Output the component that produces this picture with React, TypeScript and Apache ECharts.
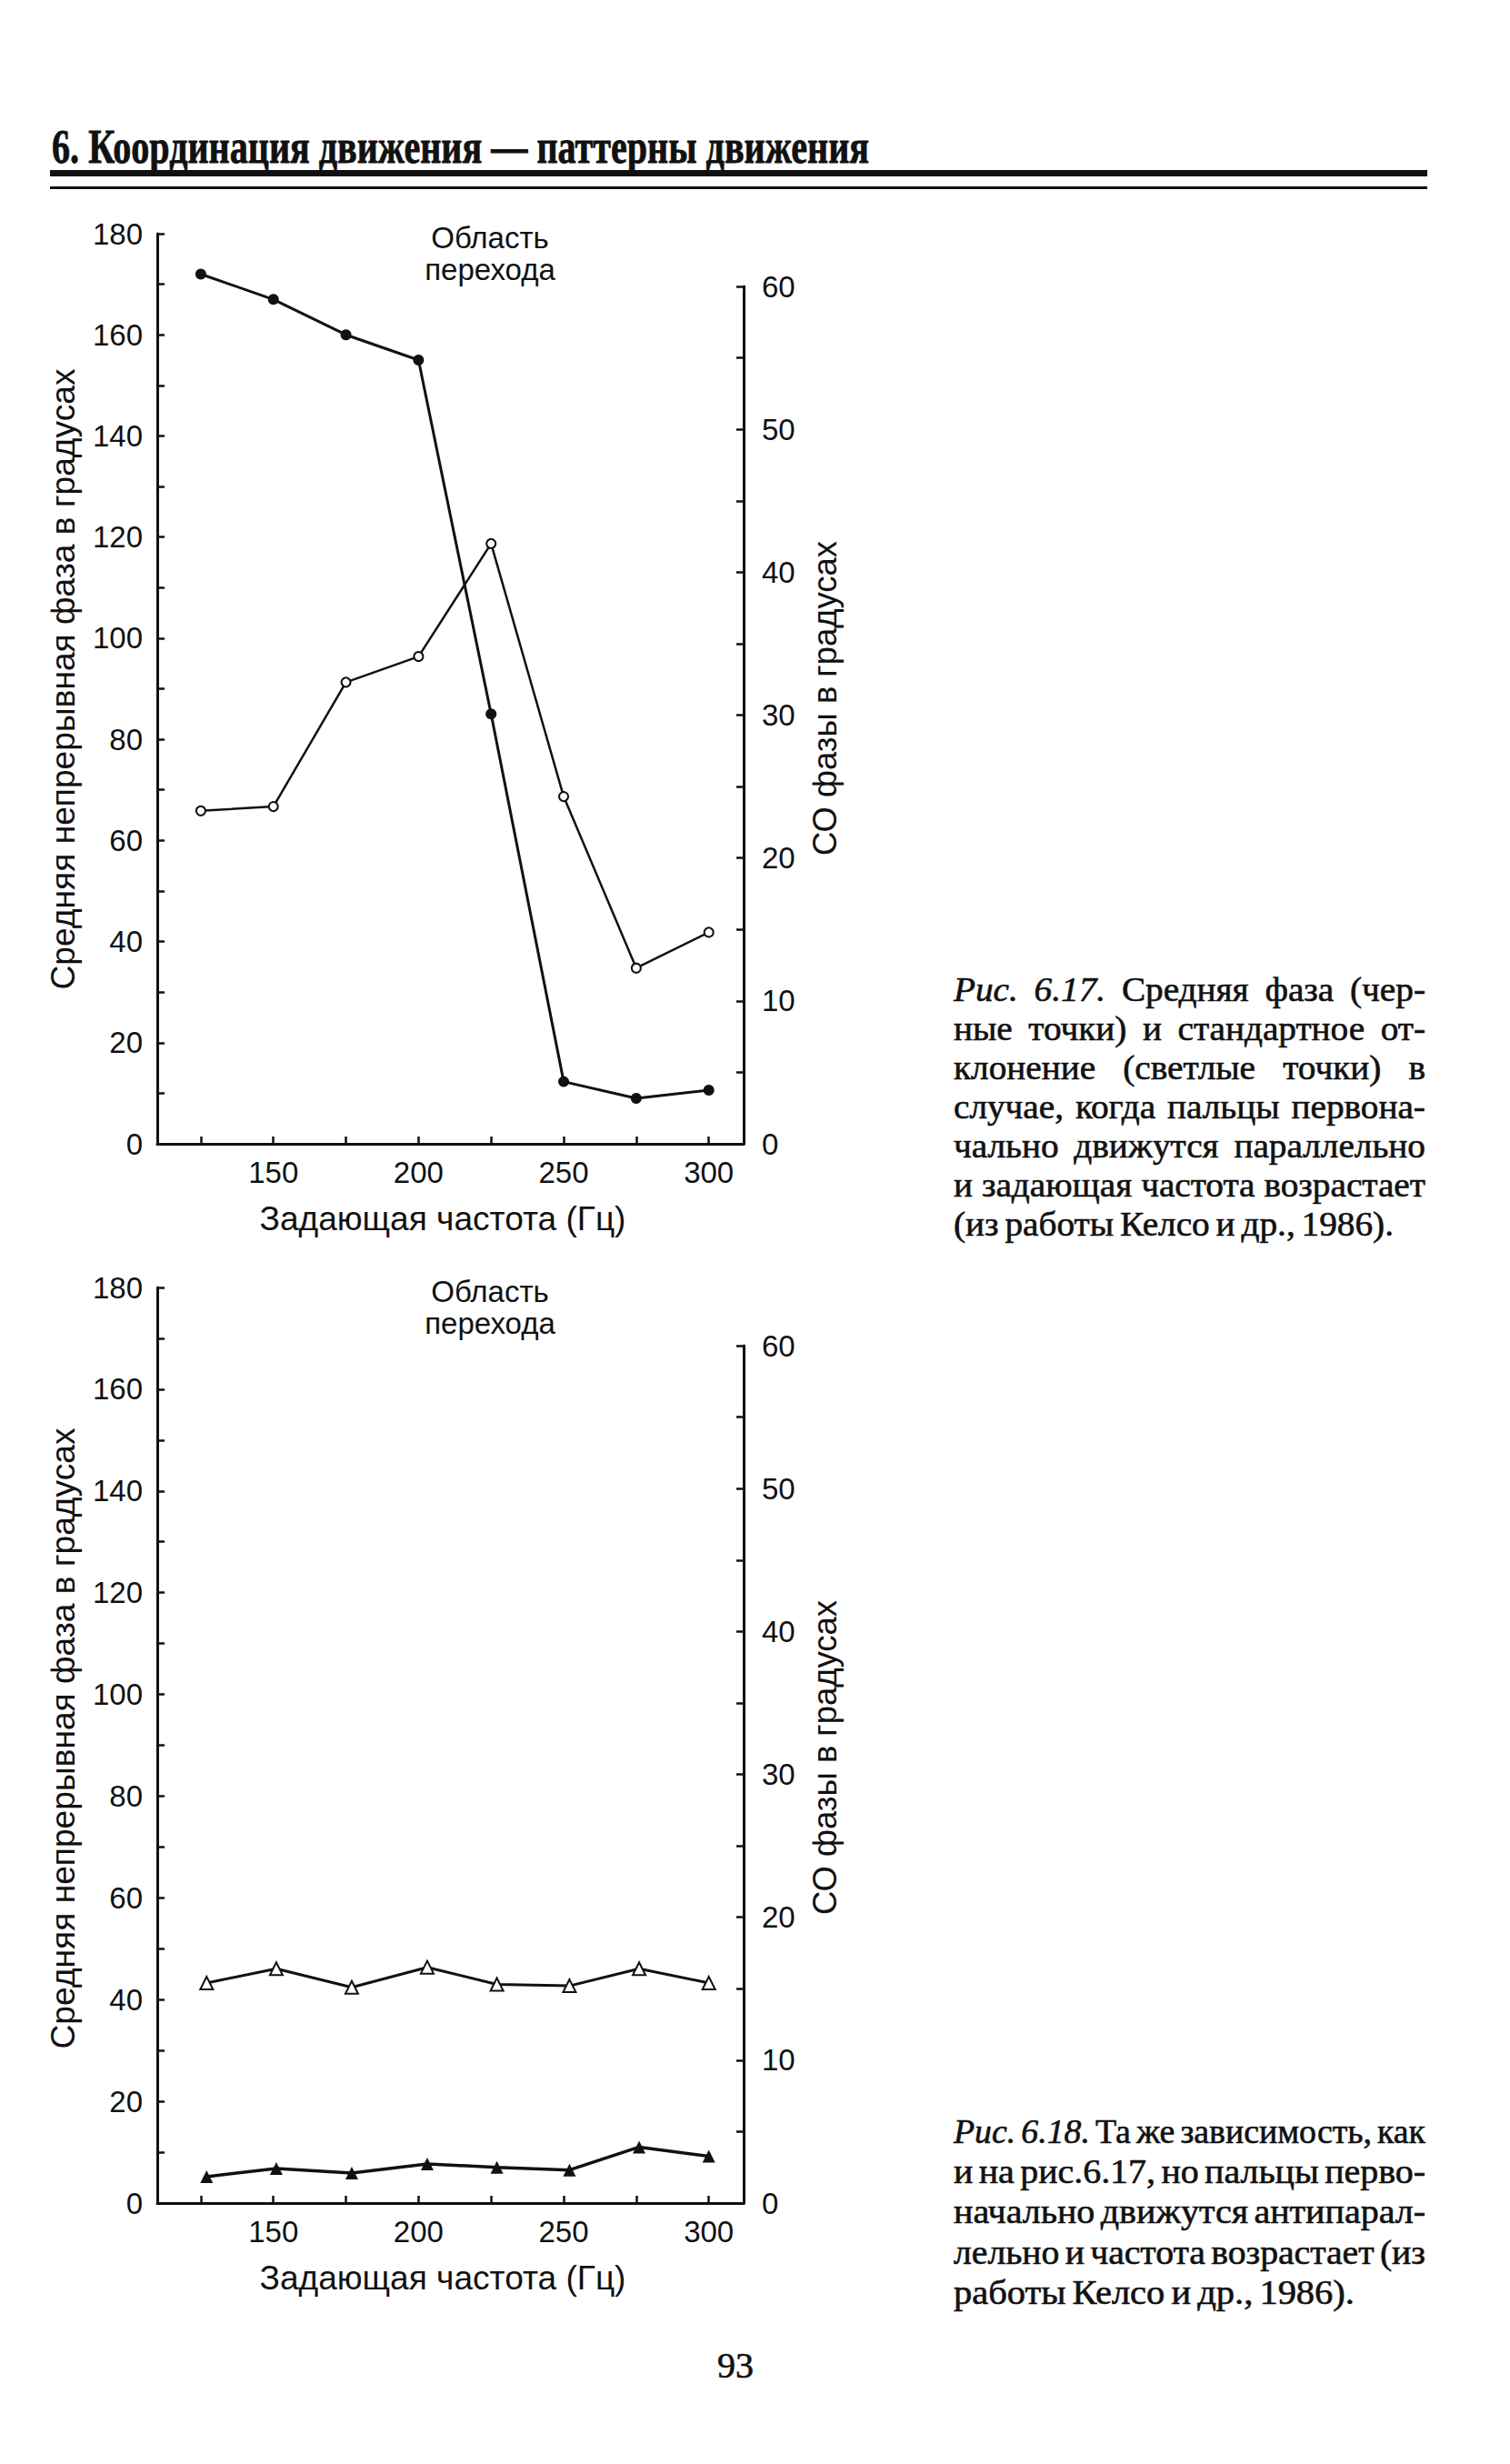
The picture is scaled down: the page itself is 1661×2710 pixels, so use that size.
import React, { useEffect, useRef } from "react";
import * as echarts from "echarts";

// ---------- data ----------
const freqTicks = [125, 150, 175, 200, 225, 250, 275, 300];
const freqLabels = [150, 200, 250, 300];

const freq617 = [125, 150, 175, 200, 225, 250, 275, 300];
const meanPhase617 = [172, 167, 160, 155, 85, 12.3, 9, 10.6];
const sdPhase617 = [23.3, 23.6, 32.3, 34.1, 42.0, 24.3, 12.3, 14.8];

const freq618 = [127, 151, 177, 203, 227, 252, 276, 300];
const meanPhase618 = [5.2, 6.8, 5.9, 7.7, 7.0, 6.5, 11.0, 9.2];
const sdPhase618 = [15.4, 16.4, 15.1, 16.5, 15.3, 15.2, 16.4, 15.4];

// ---------- texts ----------
const headerText = "6. Координация движения — паттерны движения";
const regionLabel = ["Область", "перехода"];
const xTitle = "Задающая частота (Гц)";
const yLeftTitle = "Средняя непрерывная фаза в градусах";
const yRightTitle = "СО фазы в градусах";
const caption617 = [
  "Рис. 6.17. Средняя фаза (чер-",
  "ные точки) и стандартное от-",
  "клонение (светлые точки) в",
  "случае, когда пальцы первона-",
  "чально движутся параллельно",
  "и задающая частота возрастает",
  "(из работы Келсо и др., 1986).",
];
const caption618 = [
  "Рис. 6.18. Та же зависимость, как",
  "и на рис.6.17, но пальцы перво-",
  "начально движутся антипарал-",
  "лельно и частота возрастает (из",
  "работы Келсо и др., 1986).",
];
const pageNumber = "93";

const INK = "#111";
const SANS = "Liberation Sans";
const SERIF = "Liberation Serif";

const PLOT_LEFT = 173;
const PLOT_WIDTH = 645;
const panels = [
  { top: 257, bottom: 1258, rightTop: 315 },
  { top: 1416, bottom: 2423, rightTop: 1480 },
];

function makeMeasurer() {
  const ctx = document.createElement("canvas").getContext("2d")!;
  return (text: string, font: string) => {
    ctx.font = font;
    return ctx.measureText(text).width;
  };
}

function buildCaption(
  measure: (t: string, f: string) => number,
  lines: string[],
  italicCount: number,
  x0: number,
  x1: number,
  y0: number,
  dy: number,
  size: number,
  lastWidth: number
) {
  const fontOf = (it: boolean) => `${it ? "italic " : ""}${size}px ${SERIF}`;
  const space = measure(" ", fontOf(false));
  const lastWords = lines[lines.length - 1].split(" ");
  const lastNat =
    lastWords.reduce((s, w) => s + measure(w, fontOf(false)), 0) +
    space * 0.7 * (lastWords.length - 1);
  let sx = lastWidth / lastNat;
  sx = Math.max(0.8, Math.min(1.3, sx));
  const els: any[] = [];
  lines.forEach((line, li) => {
    const words = line.split(" ");
    const ital = words.map((_, wi) => li === 0 && wi < italicCount);
    const ws = words.map((w, i) => measure(w, fontOf(ital[i])) * sx);
    const sum = ws.reduce((a, b) => a + b, 0);
    const isLast = li === lines.length - 1;
    let gap = isLast ? space * 0.7 * sx : (x1 - x0 - sum) / Math.max(1, words.length - 1);
    let ls = 1;
    const minGap = space * 0.7;
    if (!isLast && gap < minGap) {
      gap = minGap;
      ls = (x1 - x0) / (sum + gap * (words.length - 1));
    }
    let x = x0;
    words.forEach((w, i) => {
      els.push({
        type: "text",
        x,
        y: y0 + li * dy,
        scaleX: sx * ls,
        style: {
          text: w,
          fontSize: size,
          fontFamily: SERIF,
          fontStyle: ital[i] ? "italic" : "normal",
          fill: INK,
          stroke: INK,
          lineWidth: 0.6,
          align: "left",
          verticalAlign: "middle",
          textAlign: "left",
          textVerticalAlign: "middle",
        },
      });
      x += (ws[i] + gap) * ls;
    });
  });
  return els;
}

function textEl(x: number, y: number, text: string, size: number, family: string, extra: any = {}) {
  return {
    type: "text",
    x,
    y,
    rotation: extra.rotation || 0,
    scaleX: extra.scaleX || 1,
    style: {
      text,
      fontSize: size,
      fontFamily: family,
      fontWeight: extra.fontWeight || "normal",
      fill: INK,
      stroke: extra.stroke ? INK : undefined,
      lineWidth: extra.stroke || 0,
      align: extra.align || "center",
      verticalAlign: "middle",
      textAlign: extra.align || "center",
      textVerticalAlign: "middle",
    },
  };
}

export default function App() {
  const ref = useRef<HTMLDivElement>(null);

  useEffect(() => {
    if (!ref.current) return;
    const chart = echarts.init(ref.current, undefined, { renderer: "svg" });
    const measure = makeMeasurer();

    const grids: any[] = [];
    const xAxes: any[] = [];
    const yAxes: any[] = [];
    const graphics: any[] = [];

    const axisLine = { show: true, onZero: false, lineStyle: { color: INK, width: 3 } };
    const tickStyle = { color: INK, width: 2.5 };
    const labelBase = { color: INK, fontSize: 33, fontFamily: SANS };

    const fit = (t: string, target: number, base: number) =>
      Math.min(38, Math.max(28, (base * target) / measure(t, `${base}px ${SANS}`)));
    const leftTitleSize = fit(yLeftTitle, 683, 34);
    const rightTitleSize = fit(yRightTitle, 346, 34);
    const xTitleSize = fit(xTitle, 403, 34);

    panels.forEach((p, i) => {
      grids.push({ left: PLOT_LEFT, top: p.top, width: PLOT_WIDTH, height: p.bottom - p.top });
      grids.push({ left: PLOT_LEFT, top: p.rightTop, width: PLOT_WIDTH, height: p.bottom - p.rightTop });
      xAxes.push({
        type: "value",
        gridIndex: 2 * i,
        min: 110,
        max: 312,
        axisLine,
        axisTick: { show: true, inside: true, length: 8, lineStyle: tickStyle, customValues: freqTicks },
        axisLabel: { ...labelBase, margin: 15, customValues: freqLabels },
        splitLine: { show: false },
      });
      xAxes.push({ type: "value", gridIndex: 2 * i + 1, min: 110, max: 312, show: false });
      yAxes.push({
        type: "value",
        gridIndex: 2 * i,
        position: "left",
        min: 0,
        max: 180,
        interval: 10,
        axisLine,
        axisTick: { show: true, inside: true, length: 8, lineStyle: tickStyle },
        axisLabel: { ...labelBase, margin: 16, formatter: (v: number) => (v % 20 === 0 ? String(v) : "") },
        splitLine: { show: false },
      });
      yAxes.push({
        type: "value",
        gridIndex: 2 * i + 1,
        position: "right",
        min: 0,
        max: 60,
        interval: 5,
        axisLine,
        axisTick: { show: true, inside: true, length: 8, lineStyle: tickStyle },
        axisLabel: { ...labelBase, margin: 20, formatter: (v: number) => (v % 10 === 0 ? String(v) : "") },
        splitLine: { show: false },
      });

      graphics.push(textEl(539, p.top + 4, regionLabel[0], 33, SANS));
      graphics.push(textEl(539, p.top + 39, regionLabel[1], 33, SANS));
      graphics.push(textEl(487, p.bottom + 82, xTitle, xTitleSize, SANS));
      graphics.push(textEl(69, p.bottom - 511, yLeftTitle, leftTitleSize, SANS, { rotation: Math.PI / 2 }));
      graphics.push(textEl(907, p.bottom - 490, yRightTitle, rightTitleSize, SANS, { rotation: Math.PI / 2 }));
    });

    // header
    const headerFont = `bold 52px ${SERIF}`;
    const headerW = measure(headerText, headerFont);
    graphics.push(
      textEl(57, 162, headerText, 52, SERIF, { align: "left", fontWeight: "bold", scaleX: 899 / headerW, stroke: 0.8 })
    );
    graphics.push({ type: "rect", shape: { x: 55, y: 187, width: 1515, height: 7 }, style: { fill: INK } });
    graphics.push({ type: "rect", shape: { x: 55, y: 205, width: 1515, height: 3 }, style: { fill: INK } });

    // captions
    graphics.push(...buildCaption(measure, caption617, 2, 1049, 1568, 1088, 43, 37, 484));
    graphics.push(...buildCaption(measure, caption618, 2, 1049, 1568, 2345, 44, 37, 441));

    graphics.push(textEl(809, 2601, pageNumber, 40, SERIF, { stroke: 0.6 }));

    const line = (w: number) => ({ color: INK, width: w });

    chart.setOption({
      animation: false,
      backgroundColor: "#fff",
      grid: grids,
      xAxis: xAxes,
      yAxis: yAxes,
      graphic: graphics,
      series: [
        {
          type: "line",
          xAxisIndex: 0,
          yAxisIndex: 0,
          data: freq617.map((f, i) => [f, meanPhase617[i]]),
          symbol: "circle",
          symbolSize: 12,
          lineStyle: line(3),
          itemStyle: { color: INK },
          z: 3,
        },
        {
          type: "line",
          xAxisIndex: 1,
          yAxisIndex: 1,
          data: freq617.map((f, i) => [f, sdPhase617[i]]),
          symbol: "emptyCircle",
          symbolSize: 10,
          lineStyle: line(2.5),
          itemStyle: { color: INK, borderWidth: 2.5 },
          z: 2,
        },
        {
          type: "line",
          xAxisIndex: 2,
          yAxisIndex: 2,
          data: freq618.map((f, i) => [f, meanPhase618[i]]),
          symbol: "triangle",
          symbolSize: 14,
          lineStyle: line(3.5),
          itemStyle: { color: INK },
          z: 3,
        },
        {
          type: "line",
          xAxisIndex: 3,
          yAxisIndex: 3,
          data: freq618.map((f, i) => [f, sdPhase618[i]]),
          symbol: "emptyTriangle",
          symbolSize: 14,
          lineStyle: line(3),
          itemStyle: { color: INK, borderWidth: 2 },
          z: 2,
        },
      ],
    });

    return () => chart.dispose();
  }, []);

  return (
    <div
      ref={ref}
      style={{ position: "absolute", left: 0, top: 0, width: 1661, height: 2710, background: "#fff" }}
    />
  );
}
